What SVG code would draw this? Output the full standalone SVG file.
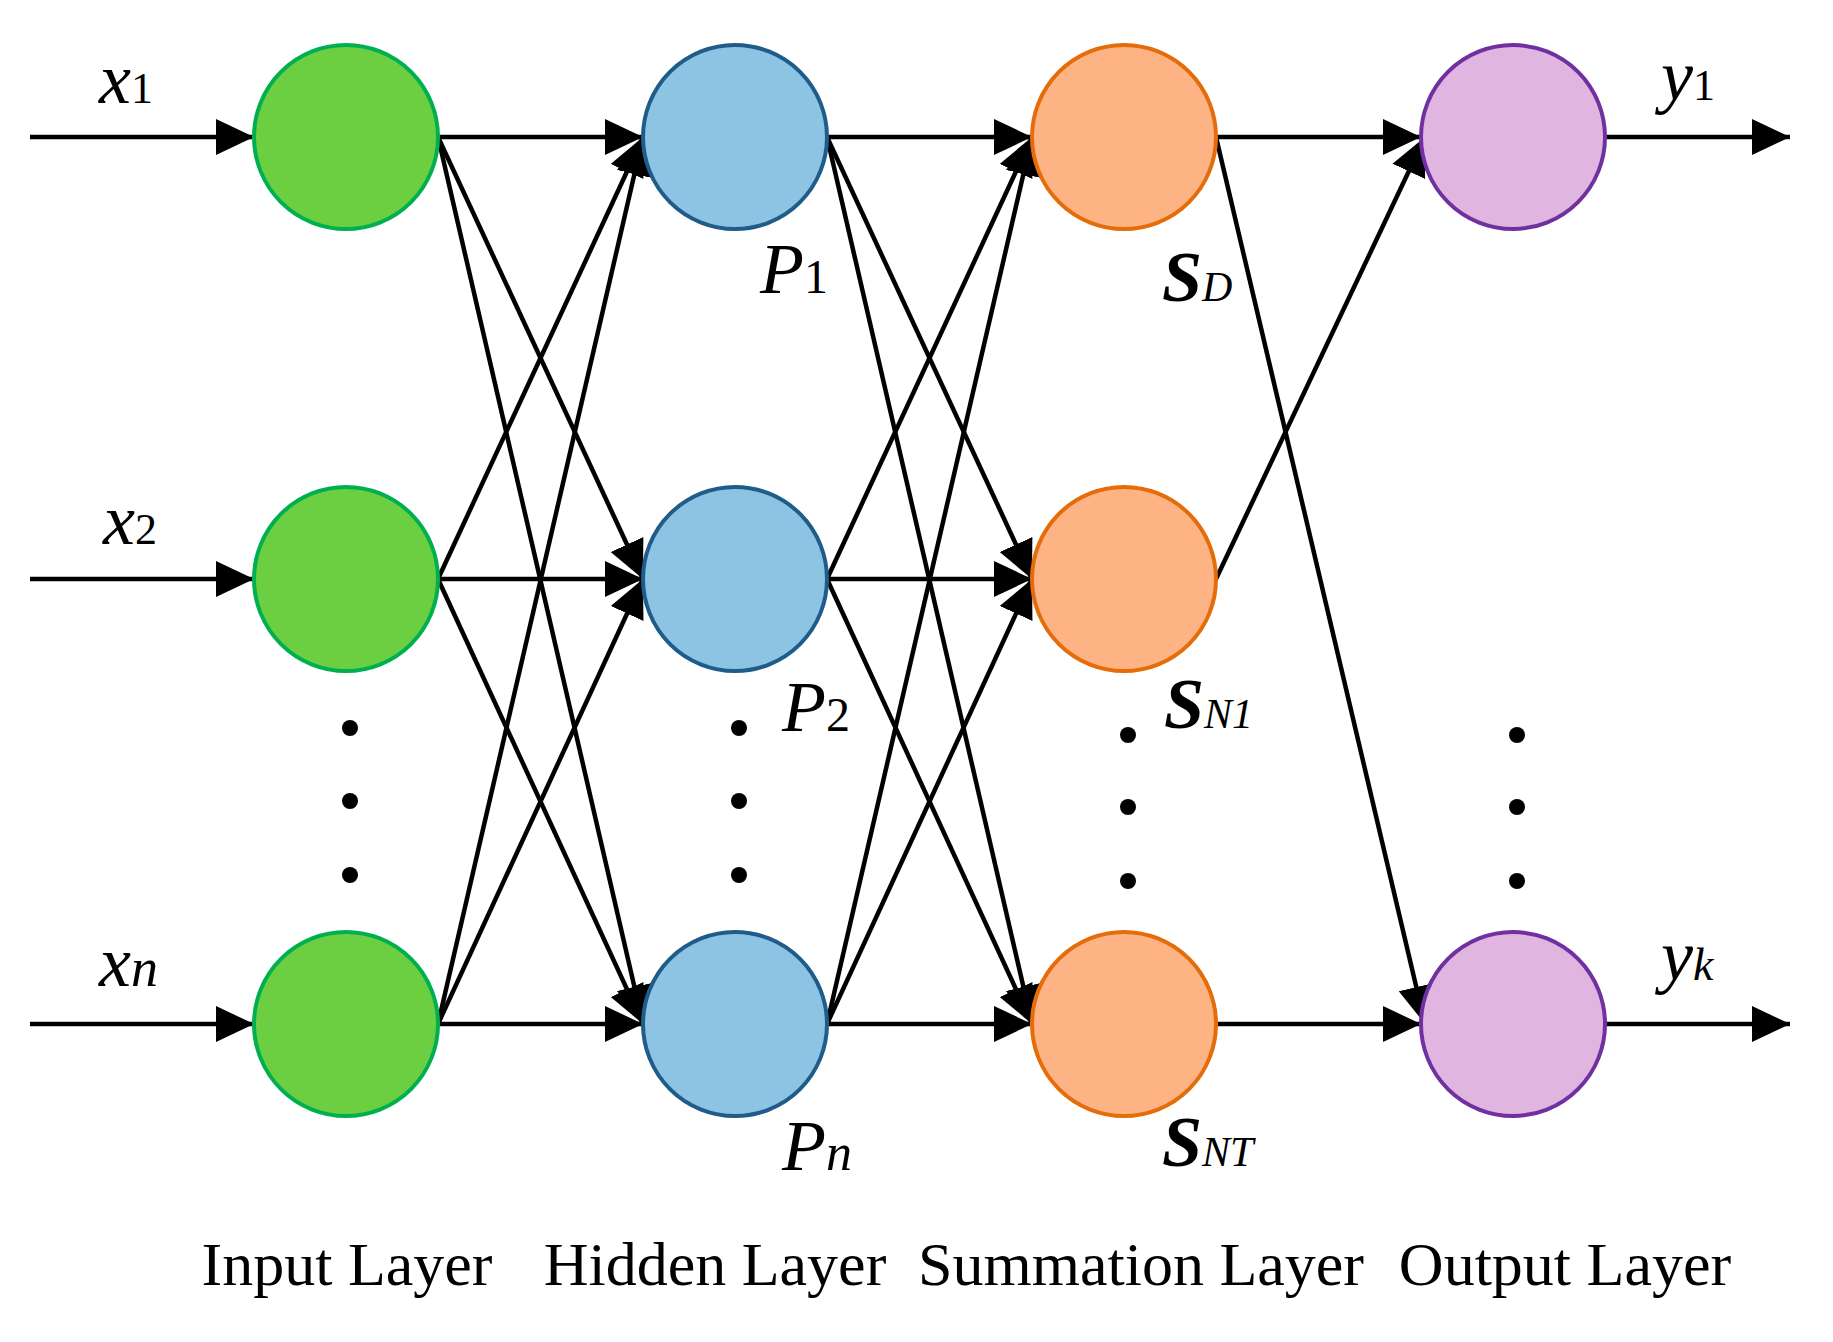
<svg xmlns="http://www.w3.org/2000/svg" width="1833" height="1342" viewBox="0 0 1833 1342">
<defs>
<marker id="ah" markerUnits="userSpaceOnUse" markerWidth="40" markerHeight="40" viewBox="0 0 40 40" refX="38" refY="20" orient="auto"><path d="M0,2 L38,20 L0,38 Z" fill="#000"/></marker>
</defs>
<style>
.e{stroke:#000;stroke-width:4.5;fill:none;marker-end:url(#ah)}
.in{fill:#6CCF42;stroke:#00B050;stroke-width:4}
.hd{fill:#8DC3E3;stroke:#1F5C8A;stroke-width:4}
.sm{fill:#FDB383;stroke:#E46C0A;stroke-width:4}
.ot{fill:#E0B6E0;stroke:#7030A0;stroke-width:4}
.t{font-family:"Liberation Serif",serif;fill:#000}
.v{font-family:"Liberation Serif",serif;font-style:italic;fill:#000;font-size:72px}
.lab{font-family:"Liberation Serif",serif;font-size:62px;text-anchor:middle}
</style>
<rect width="1833" height="1342" fill="#fff"/>
<g id="connectors">
<line class="e" x1="30" y1="137" x2="254" y2="137"/>
<line class="e" x1="30" y1="579" x2="254" y2="579"/>
<line class="e" x1="30" y1="1024" x2="254" y2="1024"/>
<line class="e" x1="438" y1="137" x2="643" y2="137"/>
<line class="e" x1="438" y1="137" x2="643" y2="579"/>
<line class="e" x1="438" y1="137" x2="643" y2="1024"/>
<line class="e" x1="438" y1="579" x2="643" y2="137"/>
<line class="e" x1="438" y1="579" x2="643" y2="579"/>
<line class="e" x1="438" y1="579" x2="643" y2="1024"/>
<line class="e" x1="438" y1="1024" x2="643" y2="137"/>
<line class="e" x1="438" y1="1024" x2="643" y2="579"/>
<line class="e" x1="438" y1="1024" x2="643" y2="1024"/>
<line class="e" x1="827" y1="137" x2="1032" y2="137"/>
<line class="e" x1="827" y1="137" x2="1032" y2="579"/>
<line class="e" x1="827" y1="137" x2="1032" y2="1024"/>
<line class="e" x1="827" y1="579" x2="1032" y2="137"/>
<line class="e" x1="827" y1="579" x2="1032" y2="579"/>
<line class="e" x1="827" y1="579" x2="1032" y2="1024"/>
<line class="e" x1="827" y1="1024" x2="1032" y2="137"/>
<line class="e" x1="827" y1="1024" x2="1032" y2="579"/>
<line class="e" x1="827" y1="1024" x2="1032" y2="1024"/>
<line class="e" x1="1216" y1="137" x2="1421" y2="137"/>
<line class="e" x1="1216" y1="137" x2="1425" y2="1024"/>
<line class="e" x1="1216" y1="579" x2="1425" y2="137"/>
<line class="e" x1="1216" y1="1024" x2="1421" y2="1024"/>
<line class="e" x1="1605" y1="137" x2="1790" y2="137"/>
<line class="e" x1="1605" y1="1024" x2="1790" y2="1024"/>
</g>
<g id="input">
<circle class="in" cx="346" cy="137" r="92"/><circle class="in" cx="346" cy="579" r="92"/><circle class="in" cx="346" cy="1024" r="92"/>
<circle cx="350" cy="728" r="8"/><circle cx="350" cy="801" r="8"/><circle cx="350" cy="875" r="8"/>
<text class="v" x="99" y="103">x<tspan class="t" font-style="normal" font-size="44">1</tspan></text>
<text class="v" x="103" y="544">x<tspan class="t" font-style="normal" font-size="44">2</tspan></text>
<text class="v" x="99" y="986">x<tspan font-size="54">n</tspan></text>
</g>
<g id="hidden">
<circle class="hd" cx="735" cy="137" r="92"/><circle class="hd" cx="735" cy="579" r="92"/><circle class="hd" cx="735" cy="1024" r="92"/>
<circle cx="739" cy="728" r="8"/><circle cx="739" cy="801" r="8"/><circle cx="739" cy="875" r="8"/>
<text class="v" x="760" y="293" font-size="78">P<tspan class="t" font-style="normal" font-size="48">1</tspan></text>
<text class="v" x="782" y="731" font-size="78">P<tspan class="t" font-style="normal" font-size="48">2</tspan></text>
<text class="v" x="782" y="1170" font-size="78">P<tspan font-size="52">n</tspan></text>
</g>
<g id="summation">
<circle class="sm" cx="1124" cy="137" r="92"/><circle class="sm" cx="1124" cy="579" r="92"/><circle class="sm" cx="1124" cy="1024" r="92"/>
<circle cx="1128" cy="735" r="8"/><circle cx="1128" cy="807" r="8"/><circle cx="1128" cy="881" r="8"/>
<text class="v" x="1162" y="301" font-size="82" font-weight="bold">S<tspan font-weight="normal" font-size="42">D</tspan></text>
<text class="v" x="1164" y="728" font-size="82" font-weight="bold">S<tspan font-weight="normal" font-size="42">N1</tspan></text>
<text class="v" x="1162" y="1166" font-size="82" font-weight="bold">S<tspan font-weight="normal" font-size="42">NT</tspan></text>
</g>
<g id="output">
<circle class="ot" cx="1513" cy="137" r="92"/><circle class="ot" cx="1513" cy="1024" r="92"/>
<circle cx="1517" cy="735" r="8"/><circle cx="1517" cy="807" r="8"/><circle cx="1517" cy="881" r="8"/>
<text class="v" x="1661" y="100">y<tspan class="t" font-style="normal" font-size="44">1</tspan></text>
<text class="v" x="1661" y="980">y<tspan font-size="46">k</tspan></text>
</g>
<g id="labels">
<text class="t lab" x="347" y="1285">Input Layer</text>
<text class="t lab" x="715" y="1285">Hidden Layer</text>
<text class="t lab" x="1141" y="1285">Summation Layer</text>
<text class="t lab" x="1565" y="1285">Output Layer</text>
</g>
</svg>
